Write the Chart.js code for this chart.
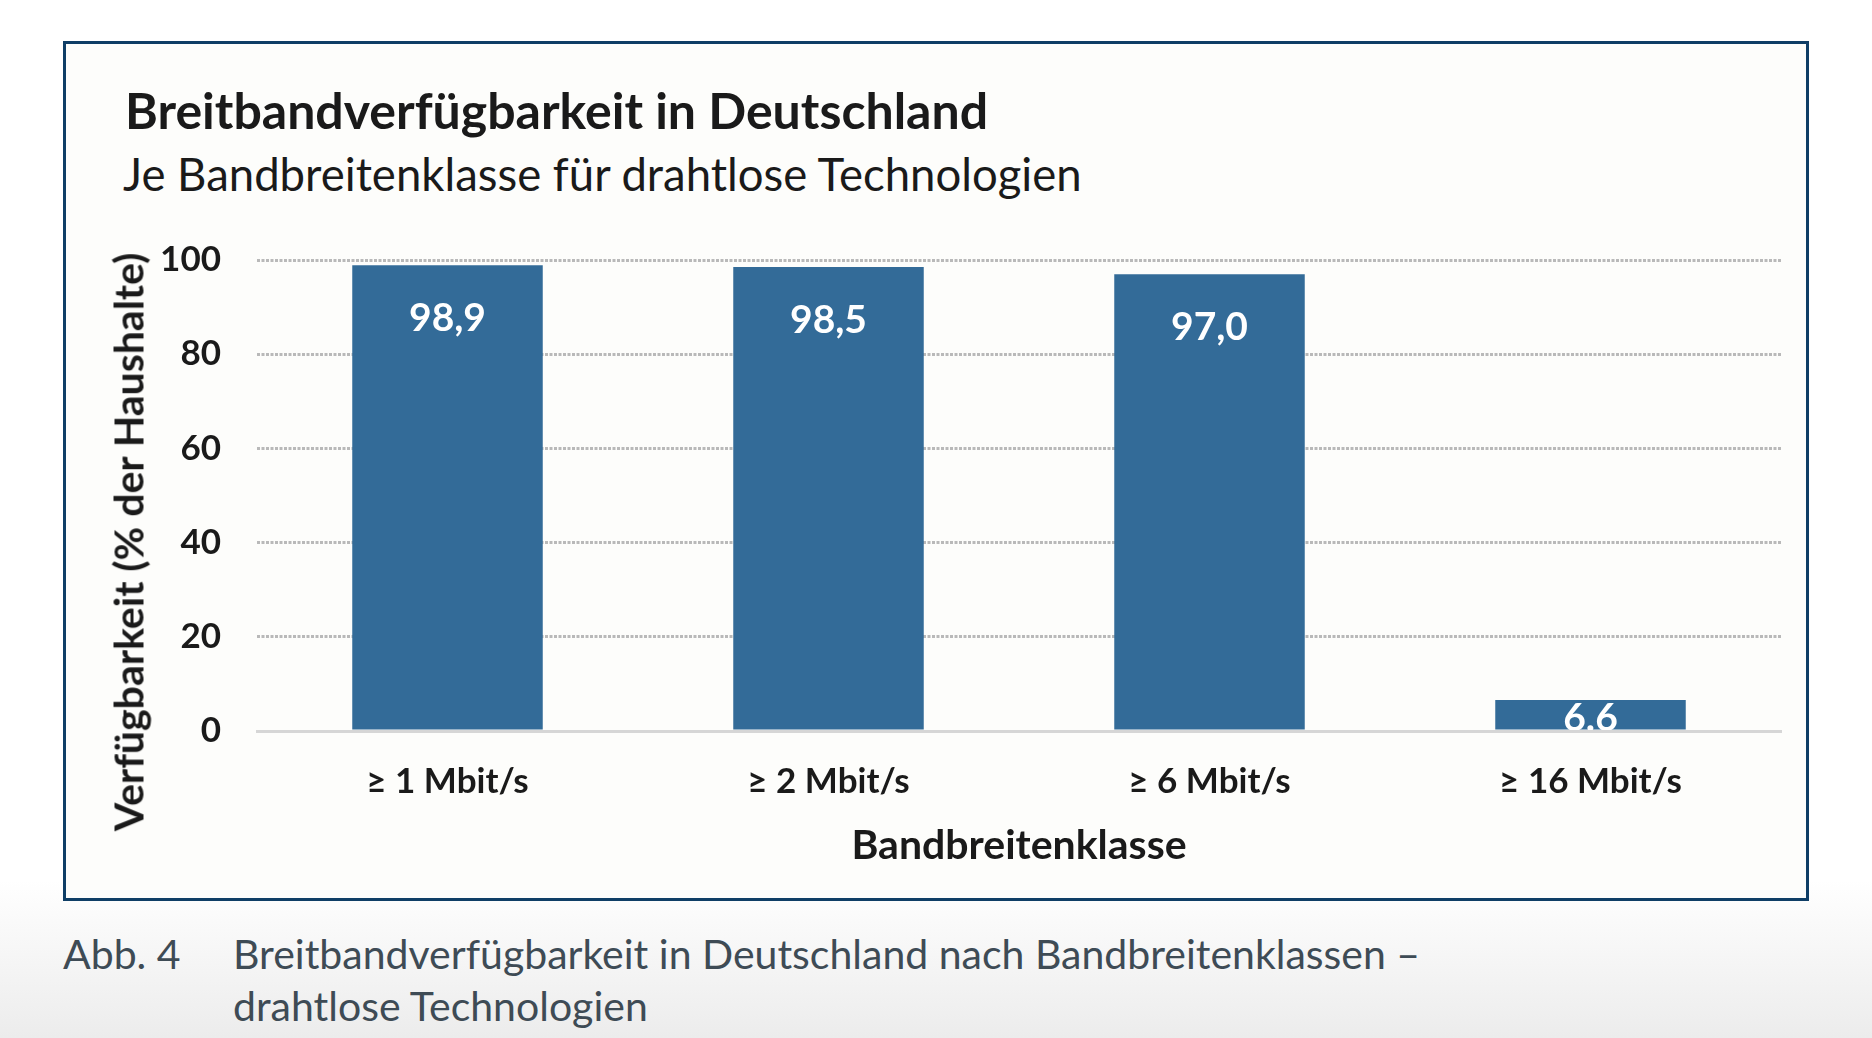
<!DOCTYPE html>
<html lang="de">
<head>
<meta charset="utf-8">
<title>Breitbandverfügbarkeit in Deutschland</title>
<script src="https://cdn.jsdelivr.net/npm/chart.js"></script>
<style>
    html, body {
        margin: 0;
        padding: 0;
    }
    body {
        width: 1872px;
        height: 1038px;
        position: relative;
        overflow: hidden;
        background: linear-gradient(to bottom, #ffffff 0px, #ffffff 880px, #ececec 1038px);
        font-family: Lato, "Open Sans", sans-serif;
    }
    .frame {
        position: absolute;
        left: 63px;
        top: 41px;
        width: 1746px;
        height: 860px;
        box-sizing: border-box;
        border: 3px solid #0f3e66;
        background: #fdfdfb;
    }
    .title {
        position: absolute;
        left: 125px;
        top: 80px;
        font-size: 50px;
        font-weight: 700;
        color: #1a1a1a;
        white-space: nowrap;
    }
    .subtitle {
        position: absolute;
        left: 123px;
        top: 146px;
        font-size: 45.5px;
        font-weight: 400;
        color: #1a1a1a;
        white-space: nowrap;
    }
    .ytitle {
        position: absolute;
        left: 128px;
        top: 542px;
        transform: translate(-50%, -50%) rotate(-90deg);
        font-size: 41px;
        font-weight: 700;
        color: #1a1a1a;
        white-space: nowrap;
    }
    .chart-box {
        position: absolute;
        left: 60px;
        top: 240px;
        width: 1746px;
        height: 640px;
    }
    .caption {
        position: absolute;
        top: 928px;
        font-size: 41px;
        line-height: 52px;
        color: #3e4b55;
        font-weight: 400;
    }
    .caption.num { left: 63px; }
    .caption.txt { left: 233px; }
</style>
</head>
<body>
<div class="frame"></div>
<div class="title">Breitbandverfügbarkeit in Deutschland</div>
<div class="subtitle">Je Bandbreitenklasse für drahtlose Technologien</div>
<div class="chart-box"><canvas id="chart"></canvas></div>
<div class="ytitle">Verfügbarkeit (% der Haushalte)</div>
<div class="caption num">Abb. 4</div>
<div class="caption txt">Breitbandverfügbarkeit in Deutschland nach Bandbreitenklassen –<br>drahtlose Technologien</div>

<script>
const categories = ['≥ 1 Mbit/s', '≥ 2 Mbit/s', '≥ 6 Mbit/s', '≥ 16 Mbit/s'];
const availability = [98.9, 98.5, 97.0, 6.6];
const valueLabels = ['98,9', '98,5', '97,0', '6.6'];
const yTicks = [0, 20, 40, 60, 80, 100];

const barColor = '#336b98';
const gridColor = '#b9b9b9';
const textColor = '#1a1a1a';
const fontFamily = 'Lato, "Open Sans", sans-serif';

// white value labels inside the bar tops, clipped at the baseline
const insideLabels = {
    id: 'insideLabels',
    afterDatasetsDraw(chart) {
        const { ctx, chartArea } = chart;
        const meta = chart.getDatasetMeta(0);
        ctx.save();
        ctx.beginPath();
        ctx.rect(chartArea.left, chartArea.top, chartArea.right - chartArea.left, chartArea.bottom - chartArea.top - 1);
        ctx.clip();
        ctx.fillStyle = '#ffffff';
        ctx.font = `700 39px ${fontFamily}`;
        ctx.textAlign = 'center';
        ctx.textBaseline = 'middle';
        meta.data.forEach((bar, i) => {
            const mid = (bar.y + bar.base) / 2 + 4;
            const y = Math.min(bar.y + 53, mid);
            ctx.fillText(valueLabels[i], bar.x, y);
        });
        ctx.restore();
    }
};

new Chart(document.getElementById('chart'), {
    type: 'bar',
    data: {
        labels: categories,
        datasets: [{
            data: availability,
            backgroundColor: barColor,
            borderWidth: 0,
            barPercentage: 0.5,
            categoryPercentage: 1.0
        }]
    },
    options: {
        responsive: true,
        maintainAspectRatio: false,
        animation: false,
        layout: { padding: { top: 20, right: 25, left: 0, bottom: 0 } },
        plugins: {
            legend: { display: false },
            tooltip: { enabled: false }
        },
        scales: {
            x: {
                afterFit(scale) {
                    scale.height = 149;
                    scale.paddingLeft = 0;
                    scale.paddingRight = 0;
                },
                grid: { display: false, drawTicks: false },
                border: { display: true, color: '#d6d6d6', width: 3, z: 1 },
                ticks: {
                    color: textColor,
                    padding: 30,
                    font: { family: fontFamily, size: 35, weight: '700' }
                },
                title: {
                    display: true,
                    text: 'Bandbreitenklasse',
                    color: textColor,
                    padding: { top: 0, bottom: 10 },
                    font: { family: fontFamily, size: 41, weight: '700' }
                }
            },
            y: {
                min: 0,
                max: 100,
                afterFit(scale) {
                    scale.width = 197;
                    scale.paddingTop = 0;
                    scale.paddingBottom = 0;
                },
                afterBuildTicks(scale) { scale.ticks = yTicks.map(v => ({ value: v })); },
                grid: {
                    drawTicks: false,
                    lineWidth: 3,
                    color: c => (c.tick && c.tick.value === 0) ? 'rgba(0,0,0,0)' : gridColor
                },
                border: { display: false, dash: [3, 1.5] },
                ticks: {
                    color: textColor,
                    padding: 36,
                    font: { family: fontFamily, size: 35, weight: '700' }
                }
            }
        }
    },
    plugins: [insideLabels]
});
</script>
</body>
</html>
